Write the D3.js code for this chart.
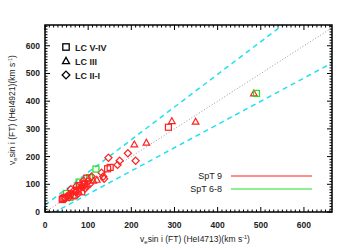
<!DOCTYPE html>
<html><head><meta charset="utf-8">
<script src="https://cdn.jsdelivr.net/npm/d3@7"></script>
<style>body{margin:0;background:#fff}svg{display:block}text{font-family:"Liberation Sans",Arial,sans-serif}</style>
</head><body>
<script>
const xTicks=[0,100,200,300,400,500,600];
const yTicks=[0,100,200,300,400,500,600];
// [x, y, shape, group] shape: s=square(LC V-IV), t=triangle(LC III), d=diamond(LC II-I); group: 9 or 68
const pts=[
[286,306,"s",9],[294,328,"t",9],[349,326,"t",9],[484,428,"t",9],[490,428,"s",68],
[207,244,"t",9],[235,250,"t",9],[192,212,"d",9],[210,185,"d",9],[173,185,"d",9],[168,170,"d",9],
[147,196,"d",9],[151,161,"s",9],[145,156,"s",9],[131,142,"d",9],[135,128,"d",9],[137,120,"d",9],
[118,155,"s",68],[120,116,"t",9],[112,113,"t",9],[103,124,"s",68],[79,108,"s",68],[50,67,"s",68],[58,53,"s",68],
[97,122,"s",9],[99,110,"d",9],[91,101,"s",9],[86,91,"d",9],[81,85,"d",9],[76,79,"s",9],[71,73,"d",9],
[66,76,"d",9],[62,67,"d",9],[60,82,"d",9],[54,61,"d",9],[50,55,"d",9],[46,53,"s",9],[42,49,"s",9],
[56,53,"d",9],[68,61,"s",9],[77,67,"d",9],[85,73,"s",9],[93,85,"d",9],[104,101,"d",9],[97,94,"d",9],
[73,94,"d",9],[89,113,"d",9],[108,128,"d",9],[48,49,"d",9],[40,45,"s",9],[65,58,"s",9],[80,95,"s",9],[88,100,"s",9]
];
const W=350,H=250;
const svg=d3.select("body").append("svg").attr("width",W).attr("height",H);
const x=d3.scaleLinear().domain([0,665]).range([45,332]);
const y=d3.scaleLinear().domain([0,675]).range([212,25]);
const g=svg.append("g");
svg.append("defs").append("clipPath").attr("id","c").append("rect")
 .attr("x",45).attr("y",25).attr("width",287).attr("height",187);
const lg=svg.append("g").attr("clip-path","url(#c)");
const line=d3.line().x(d=>x(d[0])).y(d=>y(d[1]));
lg.append("path").attr("d",line([[0,0],[700,700]])).attr("stroke","#999").attr("stroke-width",1).attr("stroke-dasharray","1,2").attr("fill","none");
lg.append("path").attr("d",line([[0,25],[700,1.18*700+25]])).attr("stroke","#22e0ee").attr("stroke-width",1.5).attr("stroke-dasharray","5,4").attr("fill","none");
lg.append("path").attr("d",line([[0,-19.3],[700,0.838*700-19.3]])).attr("stroke","#22e0ee").attr("stroke-width",1.5).attr("stroke-dasharray","5,4").attr("fill","none");
// points
const col={9:"#ff2020",68:"#22dd22"};
function shape(sel,s,cx,cy,sz){
 if(s==="s") return sel.append("rect").attr("x",cx-sz).attr("y",cy-sz).attr("width",2*sz).attr("height",2*sz);
 if(s==="t") return sel.append("path").attr("d",`M${cx},${cy-sz*1.15}L${cx+sz*1.1},${cy+sz*0.8}L${cx-sz*1.1},${cy+sz*0.8}Z`);
 return sel.append("path").attr("d",`M${cx},${cy-sz*1.2}L${cx+sz*1.2},${cy}L${cx},${cy+sz*1.2}L${cx-sz*1.2},${cy}Z`);
}
const pg=svg.append("g");
pts.forEach(p=>{shape(pg,p[2],x(p[0]),y(p[1]),3).attr("fill","none").attr("stroke",col[p[3]]).attr("stroke-width",1.2);});
// frame
svg.append("rect").attr("x",45).attr("y",25).attr("width",287).attr("height",187).attr("fill","none").attr("stroke","#000").attr("stroke-width",1.5);
const tg=svg.append("g").attr("stroke","#000").attr("stroke-width",1);
d3.range(0,661,10).forEach(v=>{
 const L=v%100===0?5:2.5, px=x(v);
 tg.append("line").attr("x1",px).attr("x2",px).attr("y1",212).attr("y2",212-L);
 tg.append("line").attr("x1",px).attr("x2",px).attr("y1",25).attr("y2",25+L);
});
d3.range(0,671,10).forEach(v=>{
 const L=v%100===0?5:2.5, py=y(v);
 tg.append("line").attr("y1",py).attr("y2",py).attr("x1",45).attr("x2",45+L);
 tg.append("line").attr("y1",py).attr("y2",py).attr("x1",332).attr("x2",332-L);
});
xTicks.forEach(v=>svg.append("text").attr("x",x(v)).attr("y",228).attr("text-anchor","middle").attr("font-size",8.5).attr("font-weight","bold").attr("fill","#222").text(v));
yTicks.forEach(v=>svg.append("text").attr("x",40).attr("y",y(v)+3).attr("text-anchor","end").attr("font-size",8.5).attr("font-weight","bold").attr("fill","#222").text(v));
// axis titles
const xt=svg.append("text").attr("x",195).attr("y",242).attr("text-anchor","middle").attr("font-size",8.5).attr("fill","#222");
xt.append("tspan").text("v");xt.append("tspan").attr("font-size",6).attr("dy",2).text("e");
xt.append("tspan").attr("dy",-2).text("sin i (FT)  (HeI4713)(km s");
xt.append("tspan").attr("font-size",5.5).attr("dy",-3).text("-1");xt.append("tspan").attr("dy",3).text(")");
const yt=svg.append("text").attr("transform","translate(15,110) rotate(-90)").attr("text-anchor","middle").attr("font-size",8.5).attr("fill","#222");
yt.append("tspan").text("v");yt.append("tspan").attr("font-size",6).attr("dy",2).text("e");
yt.append("tspan").attr("dy",-2).text("sin i (FT)  (HeI4921)(km s");
yt.append("tspan").attr("font-size",5.5).attr("dy",-3).text("-1");yt.append("tspan").attr("dy",3).text(")");
// shape legend
const leg=[["s","LC V-IV"],["t","LC III"],["d","LC II-I"]];
leg.forEach((l,i)=>{
 const cy=47+i*14;
 shape(svg,l[0],66,cy,3.2).attr("fill","none").attr("stroke","#000").attr("stroke-width",1.3);
 svg.append("text").attr("x",75).attr("y",cy+3.5).attr("font-size",9).attr("font-weight","bold").attr("fill","#222").text(l[1]);
});
const leg2=[["SpT 9","#ff2020"],["SpT 6-8","#22dd22"]];
leg2.forEach((l,i)=>{
 const cy=176+i*13;
 svg.append("text").attr("x",222).attr("y",cy+3).attr("text-anchor","end").attr("font-size",9).attr("fill","#222").text(l[0]);
 svg.append("line").attr("x1",231).attr("x2",312).attr("y1",cy).attr("y2",cy).attr("stroke",l[1]).attr("stroke-width",1.2);
});
</script>
</body></html>
